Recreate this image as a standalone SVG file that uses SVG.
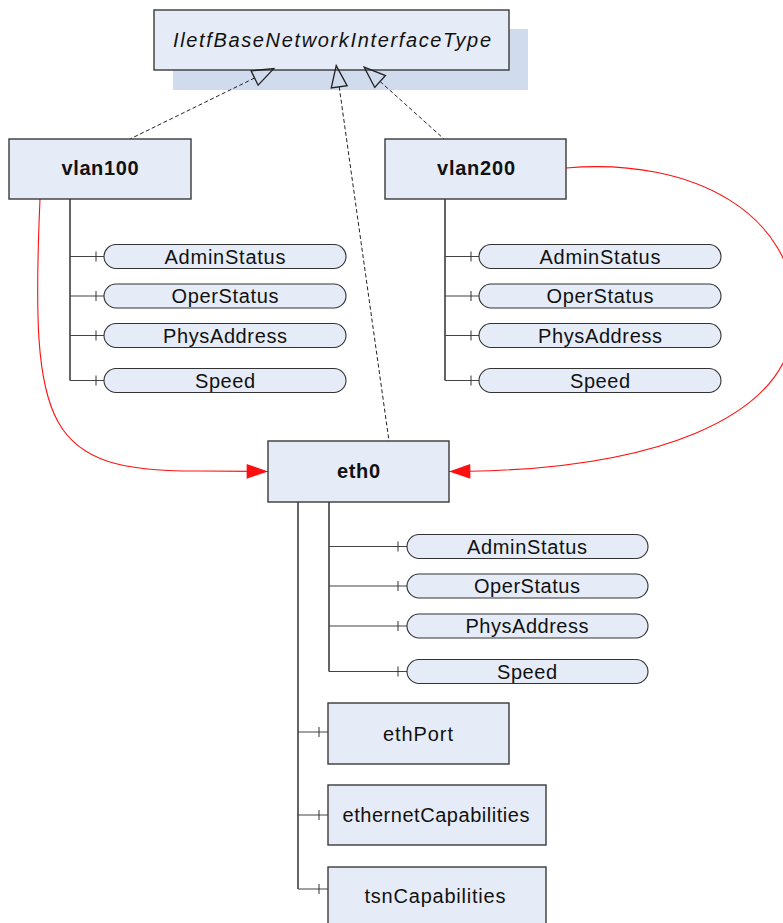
<svg xmlns="http://www.w3.org/2000/svg" width="783" height="923" viewBox="0 0 783 923">
  <style>
    .box { fill: #e6ecf7; stroke: #3a3a3a; stroke-width: 1.4; }
    .pill { fill: #e6ecf7; stroke: #333; stroke-width: 1.1; }
    .shadow { fill: #d1dbee; stroke: none; }
    .lbl { font-family: "Liberation Sans", Arial, sans-serif; font-size: 20px; fill: #111; text-anchor: middle; }
    .bold { font-weight: bold; }
    .ital { font-style: italic; }
    .trunk { stroke: #111; stroke-width: 1.3; fill: none; }
    .branch { stroke: #444; stroke-width: 1.1; fill: none; }
    .tick { stroke: #333; stroke-width: 1; }
    .real { stroke: #222; stroke-width: 1; stroke-dasharray: 4 2.5; fill: none; }
    .assoc { stroke: #ff1010; stroke-width: 1.1; fill: none; }
  </style>
  <defs>
    <marker id="hollow" markerUnits="userSpaceOnUse" markerWidth="40" markerHeight="40" refX="0" refY="0" viewBox="-20 -10 30 20" orient="auto">
      <path d="M-16,0 L0,-6 L0,6 Z" fill="none" stroke="#222" stroke-width="1"/>
    </marker>
    <marker id="redhead" markerUnits="userSpaceOnUse" markerWidth="40" markerHeight="40" refX="0" refY="0" viewBox="-20 -10 30 20" orient="auto">
      <path d="M0,0 L-16,-5.5 L-16,5.5 Z" fill="#ff1010" stroke="none"/>
    </marker>
  </defs>

  <!-- interface type with its backdrop -->
  <g id="IletfBaseNetworkInterfaceType">
    <rect class="shadow" x="173" y="29" width="355" height="61"/>
    <rect class="box" x="154" y="10" width="355" height="60"/>
    <text class="lbl ital" x="332" y="47" textLength="318" lengthAdjust="spacing">IletfBaseNetworkInterfaceType</text>
  </g>

  <!-- connectors -->
  <g id="connectors">
    <!-- realization (dashed, hollow head) -->
    <path class="real" d="M254.6,78 L130,139" marker-start="url(#hollow)"/>
    <path class="real" d="M339.2,86.8 L389,441" marker-start="url(#hollow)"/>
    <path class="real" d="M380.1,81.5 L444,139" marker-start="url(#hollow)"/>

    <!-- associations to eth0 -->
    <path class="assoc" d="M40,199 C 30,430 45,472 200,471 L268,471.5" marker-end="url(#redhead)"/>
    <path class="assoc" d="M566,168 C 695,157 795,215 795,313 C 795,425 640,468 470,471.3 L449,471.5" marker-end="url(#redhead)"/>

    <!-- vlan100 attribute tree -->
    <path class="trunk" d="M70,199 V380.5"/>
    <path class="branch" d="M70,256.5 H104 M70,296 H104 M70,335.5 H104 M70,380.5 H104"/>
    <path class="tick" d="M96,251.5 v10 M96,291 v10 M96,330.5 v10 M96,375.5 v10"/>

    <!-- vlan200 attribute tree -->
    <path class="trunk" d="M445,199 V380.5"/>
    <path class="branch" d="M445,256.5 H479 M445,296 H479 M445,335.5 H479 M445,380.5 H479"/>
    <path class="tick" d="M471,251.5 v10 M471,291 v10 M471,330.5 v10 M471,375.5 v10"/>

    <!-- eth0 attribute tree -->
    <path class="trunk" d="M329,502 V671.5"/>
    <path class="branch" d="M329,546.5 H407 M329,586 H407 M329,626 H407 M329,671.5 H407"/>
    <path class="tick" d="M398,541.5 v10 M398,581 v10 M398,621 v10 M398,666.5 v10"/>

    <!-- eth0 composition tree -->
    <path class="trunk" d="M298,502 V889"/>
    <path class="branch" d="M298,732 H328 M298,815 H328 M298,889 H328"/>
    <path class="tick" d="M319,727 v10 M319,810 v10 M319,884 v10"/>
  </g>

  <g id="vlan100">
    <rect class="box" x="9" y="139" width="182" height="60"/>
    <text class="lbl bold" x="100" y="175" textLength="77" lengthAdjust="spacing">vlan100</text>
  </g>
  <g id="vlan100-attributes">
    <rect class="pill" x="104" y="244.5" width="242" height="24" rx="12"/>
    <text class="lbl" x="225" y="263.5" textLength="121" lengthAdjust="spacing">AdminStatus</text>
    <rect class="pill" x="104" y="284" width="242" height="24" rx="12"/>
    <text class="lbl" x="225" y="303" textLength="107" lengthAdjust="spacing">OperStatus</text>
    <rect class="pill" x="104" y="323.5" width="242" height="24" rx="12"/>
    <text class="lbl" x="225" y="342.5" textLength="124" lengthAdjust="spacing">PhysAddress</text>
    <rect class="pill" x="104" y="368.5" width="242" height="24" rx="12"/>
    <text class="lbl" x="225" y="387.5" textLength="60" lengthAdjust="spacing">Speed</text>
  </g>

  <g id="vlan200">
    <rect class="box" x="385" y="139" width="181" height="60"/>
    <text class="lbl bold" x="476" y="175" textLength="78" lengthAdjust="spacing">vlan200</text>
  </g>
  <g id="vlan200-attributes">
    <rect class="pill" x="479" y="244.5" width="242" height="24" rx="12"/>
    <text class="lbl" x="600" y="263.5" textLength="121" lengthAdjust="spacing">AdminStatus</text>
    <rect class="pill" x="479" y="284" width="242" height="24" rx="12"/>
    <text class="lbl" x="600" y="303" textLength="107" lengthAdjust="spacing">OperStatus</text>
    <rect class="pill" x="479" y="323.5" width="242" height="24" rx="12"/>
    <text class="lbl" x="600" y="342.5" textLength="124" lengthAdjust="spacing">PhysAddress</text>
    <rect class="pill" x="479" y="368.5" width="242" height="24" rx="12"/>
    <text class="lbl" x="600" y="387.5" textLength="60" lengthAdjust="spacing">Speed</text>
  </g>

  <g id="eth0">
    <rect class="box" x="268" y="441" width="181" height="61"/>
    <text class="lbl bold" x="358.5" y="478" textLength="43" lengthAdjust="spacing">eth0</text>
  </g>
  <g id="eth0-attributes">
    <rect class="pill" x="407" y="534.5" width="241" height="24" rx="12"/>
    <text class="lbl" x="527" y="553.5" textLength="120" lengthAdjust="spacing">AdminStatus</text>
    <rect class="pill" x="407" y="574" width="241" height="24" rx="12"/>
    <text class="lbl" x="527" y="593" textLength="106" lengthAdjust="spacing">OperStatus</text>
    <rect class="pill" x="407" y="614" width="241" height="24" rx="12"/>
    <text class="lbl" x="527" y="633" textLength="123" lengthAdjust="spacing">PhysAddress</text>
    <rect class="pill" x="407" y="659.5" width="241" height="24" rx="12"/>
    <text class="lbl" x="527" y="678.5" textLength="60" lengthAdjust="spacing">Speed</text>
  </g>

  <g id="ethPort">
    <rect class="box" x="328" y="703" width="181" height="61"/>
    <text class="lbl" x="418" y="741" textLength="70" lengthAdjust="spacing">ethPort</text>
  </g>
  <g id="ethernetCapabilities">
    <rect class="box" x="328" y="785" width="218" height="60"/>
    <text class="lbl" x="436" y="822" textLength="187" lengthAdjust="spacing">ethernetCapabilities</text>
  </g>
  <g id="tsnCapabilities">
    <rect class="box" x="328" y="867" width="218" height="61"/>
    <text class="lbl" x="435" y="903" textLength="141" lengthAdjust="spacing">tsnCapabilities</text>
  </g>
</svg>
